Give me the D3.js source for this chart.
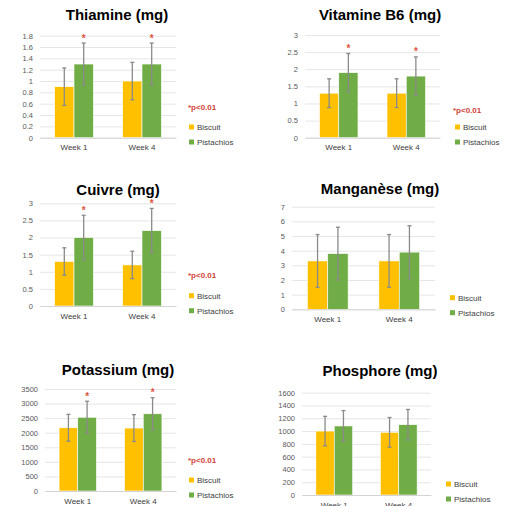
<!DOCTYPE html>
<html>
<head>
<meta charset="utf-8">
<script src="https://cdn.jsdelivr.net/npm/d3@7"></script>
<style>
  html, body { margin: 0; padding: 0; background: #fff; }
  svg { display: block; font-family: "Liberation Sans", Arial, sans-serif; }
</style>
</head>
<body>
<div id="chart"></div>
<script>
// ---- data ----
const weeks = ["Week 1", "Week 4"];
const seriesNames = ["Biscuit", "Pistachios"];
const seriesColors = ["#FFC000", "#70AD47"];

const panelTitles = ["Thiamine (mg)", "Vitamine B6 (mg)", "Cuivre (mg)", "Manganèse (mg)", "Potassium (mg)", "Phosphore (mg)"];
const biscuitMeans    = [[0.9, 1.0], [1.3, 1.3], [1.3, 1.2], [3.3, 3.3], [2170, 2160], [1000, 980]];
const biscuitErrors   = [[0.33, 0.33], [0.42, 0.42], [0.4, 0.4], [1.8, 1.8], [460, 460], [230, 232]];
const pistachioMeans  = [[1.3, 1.3], [1.9, 1.8], [2.0, 2.2], [3.8, 3.9], [2530, 2650], [1080, 1100]];
const pistachioErrors = [[0.37, 0.37], [0.56, 0.56], [0.65, 0.65], [1.8, 1.8], [550, 550], [240, 238]];
const yMax  = [1.8, 3, 3, 7, 3500, 1600];
const yStep = [0.2, 0.5, 0.5, 1, 500, 200];
const significant = [true, true, true, false, true, false];
const pLabel = "*p<0.01";

// ---- layout (pixel frames of each small chart) ----
const frames = [
  { left: 40,  right: 176, top: 35.7,  bottom: 137.7, tx: 117, ty: 15,  px: 188, py: 107, lx: 189, ly: 127 },
  { left: 305, right: 440, top: 35,    bottom: 137.7, tx: 380, ty: 15,  px: 453, py: 110, lx: 455, ly: 127 },
  { left: 40,  right: 176, top: 203.3, bottom: 306,   tx: 118, ty: 190, px: 188, py: 275, lx: 189, ly: 295.7 },
  { left: 292, right: 435, top: 206.7, bottom: 309.3, tx: 380, ty: 189, px: 0,   py: 0,   lx: 450, ly: 297.7 },
  { left: 45,  right: 176, top: 389,   bottom: 491,   tx: 118, ty: 370, px: 188, py: 460, lx: 189, ly: 480 },
  { left: 302, right: 431, top: 392.7, bottom: 495,   tx: 380, ty: 371, px: 0,   py: 0,   lx: 446, ly: 484 }
];

const W = 507, H = 506;
const svg = d3.select("#chart").append("svg")
  .attr("width", W).attr("height", H)
  .attr("viewBox", [0, 0, W, H]);

const fmt = d => String(+d.toFixed(2));

panelTitles.forEach((title, i) => {
  const f = frames[i];
  const g = svg.append("g");

  const y = d3.scaleLinear().domain([0, yMax[i]]).range([f.bottom, f.top]);
  const x = d3.scaleBand().domain(weeks).range([f.left, f.right]);
  const groupW = x.bandwidth() * 0.57;
  const xs = d3.scaleBand().domain(seriesNames).range([0, groupW]);

  const ticks = d3.range(0, yMax[i] + yStep[i] / 2, yStep[i]);

  // gridlines + y labels
  const yAxis = g.append("g")
    .attr("transform", `translate(${f.left},0)`)
    .call(d3.axisLeft(y).tickValues(ticks).tickFormat(fmt)
      .tickSize(-(f.right - f.left)).tickPadding(7));
  yAxis.select(".domain").remove();
  yAxis.selectAll("line").attr("stroke", "#e6e6e6").attr("stroke-width", 1);
  yAxis.selectAll("text").attr("fill", "#595959").attr("font-size", 7.5).attr("font-family", null);

  // bars
  const rows = weeks.map((w, k) => ({
    week: w,
    vals: [
      { s: seriesNames[0], c: seriesColors[0], v: biscuitMeans[i][k], e: biscuitErrors[i][k] },
      { s: seriesNames[1], c: seriesColors[1], v: pistachioMeans[i][k], e: pistachioErrors[i][k] }
    ]
  }));

  const grp = g.selectAll("g.week")
    .data(rows)
    .enter().append("g")
    .attr("class", "week")
    .attr("transform", d => `translate(${x(d.week) + (x.bandwidth() - groupW) / 2},0)`);

  grp.selectAll("rect")
    .data(d => d.vals)
    .enter().append("rect")
    .attr("x", d => xs(d.s))
    .attr("width", xs.bandwidth())
    .attr("y", d => y(d.v))
    .attr("height", d => y(0) - y(d.v))
    .attr("fill", d => d.c)
    .attr("stroke", "#fff")
    .attr("stroke-width", 0.6);

  // error bars
  const eb = grp.selectAll("g.err")
    .data(d => d.vals)
    .enter().append("g")
    .attr("class", "err")
    .attr("transform", d => `translate(${xs(d.s) + xs.bandwidth() / 2},0)`);
  eb.append("line")
    .attr("y1", d => y(d.v + d.e)).attr("y2", d => y(d.v - d.e))
    .attr("stroke", "#8a8a8a").attr("stroke-width", 1.3);
  eb.selectAll("line.cap")
    .data(d => [d.v + d.e, d.v - d.e])
    .enter().append("line")
    .attr("class", "cap")
    .attr("x1", -2).attr("x2", 2)
    .attr("y1", v => y(v)).attr("y2", v => y(v))
    .attr("stroke", "#8a8a8a").attr("stroke-width", 1.3);

  // significance stars on pistachio bars
  if (significant[i]) {
    grp.append("text")
      .datum(d => d.vals[1])
      .attr("x", d => xs(d.s) + xs.bandwidth() / 2)
      .attr("y", d => y(d.v + d.e) - 1.5)
      .attr("text-anchor", "middle")
      .attr("font-size", 10)
      .attr("font-weight", "bold")
      .attr("fill", "#E0533D")
      .text("*");

    g.append("text")
      .attr("x", f.px).attr("y", f.py)
      .attr("dy", "0.35em")
      .attr("font-size", 8)
      .attr("font-weight", "bold")
      .attr("fill", "#D0443A")
      .text(pLabel);
  }

  // x axis
  const xAxis = g.append("g")
    .attr("transform", `translate(0,${f.bottom})`)
    .call(d3.axisBottom(x).tickSize(0).tickPadding(7));
  xAxis.select(".domain").attr("stroke", "#d4d4d4");
  xAxis.selectAll("text").attr("fill", "#404040").attr("font-size", 8).attr("font-family", null);

  // title
  g.append("text")
    .attr("x", f.tx).attr("y", f.ty)
    .attr("dy", "0.35em")
    .attr("text-anchor", "middle")
    .attr("font-size", 15)
    .attr("font-weight", "bold")
    .attr("fill", "#000")
    .text(title);

  // legend
  const leg = g.selectAll("g.leg")
    .data(seriesNames)
    .enter().append("g")
    .attr("class", "leg")
    .attr("transform", (d, k) => `translate(${f.lx},${f.ly + k * 15})`);
  leg.append("rect")
    .attr("x", 0).attr("y", -2.5).attr("width", 5).attr("height", 5)
    .attr("fill", (d, k) => seriesColors[k]);
  leg.append("text")
    .attr("x", 8).attr("dy", "0.35em")
    .attr("font-size", 8)
    .attr("fill", "#404040")
    .text(d => d);
});
</script>
</body>
</html>
